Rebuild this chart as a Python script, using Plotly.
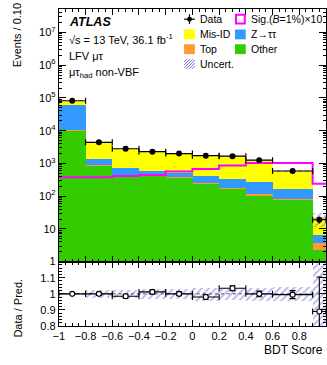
import numpy as np
import plotly.graph_objects as go

W, H = 327, 365

# ---------------- data ----------------
edges = [-1.0, -0.8, -0.6, -0.4, -0.2, 0.0, 0.2, 0.4, 0.6, 0.9, 1.0]
other = [10200, 880, 440, 440, 365, 238, 170, 108, 78, 2.3]
top = [600, 40, 20, 20, 15, 12, 10, 8, 7, 1.5]
ztautau = [52200, 480, 270, 150, 150, 160, 160, 154, 85, 2.7]
misid = [19000, 3000, 2120, 1640, 1470, 1340, 1260, 980, 420, 14.5]
signal_x10 = [380, 375, 415, 440, 565, 680, 870, 1030, 1030, 240]
data = [82000, 4400, 2800, 2280, 2000, 1720, 1660, 1250, 585, 19]
data_err = [290, 66, 53, 48, 45, 41, 41, 35, 24, 4.4]
unc_rel = [0.005, 0.025, 0.025, 0.03, 0.03, 0.04, 0.035, 0.04, 0.045, 0.45]
ratio = [1.0, 1.0, 0.985, 1.012, 1.0, 0.98, 1.035, 1.0, 0.995, 0.89]
ratio_err = [0.004, 0.01, 0.012, 0.012, 0.012, 0.014, 0.015, 0.018, 0.025, 0.215]

x_ticks = [-1, -0.8, -0.6, -0.4, -0.2, 0, 0.2, 0.4, 0.6, 0.8]
x_ticktext = ["\u22121", "\u22120.8", "\u22120.6", "\u22120.4", "\u22120.2", "0", "0.2", "0.4", "0.6", "0.8"]
y_ticks = [1, 10, 1e2, 1e3, 1e4, 1e5, 1e6, 1e7]
y_ticktext = ["1", "10", "10<sup>2</sup>", "10<sup>3</sup>", "10<sup>4</sup>",
              "10<sup>5</sup>", "10<sup>6</sup>", "10<sup>7</sup>"]
r_ticks = [0.8, 0.9, 1.0, 1.1]
r_ticktext = ["0.8", "0.9", "1", "1.1"]

# ---------------- colours ----------------
C_OTHER = "#33cc00"
C_TOP = "#ff9933"
C_Z = "#3399ff"
C_MIS = "#ffff00"
C_SIG = "#ff00ff"
C_HATCH = "#7070e0"
FONT = "Liberation Sans"

edges_a = np.array(edges)
centers = (edges_a[:-1] + edges_a[1:]) / 2
widths = np.diff(edges_a)
halfw = widths / 2

fig = go.Figure()

# stacked backgrounds (explicit bases, overlay mode)
cum = np.zeros(len(other))
for vals, col, name in [(other, C_OTHER, "Other"), (top, C_TOP, "Top"),
                        (ztautau, C_Z, "Z"), (misid, C_MIS, "Mis-ID")]:
    v = np.array(vals, dtype=float)
    kw = {}
    if cum.sum() > 0:
        kw["base"] = cum.copy()
    fig.add_trace(go.Bar(x=centers, y=v, width=widths, marker=dict(color=col, line=dict(width=0)),
                         xaxis="x", yaxis="y", showlegend=False, name=name, **kw))
    cum = cum + v
total = cum

# uncertainty band main
unc = np.array(unc_rel)
fig.add_trace(go.Bar(x=centers, y=2 * total * unc, base=total * (1 - unc), width=widths,
                     marker=dict(color="rgba(0,0,0,0)", line=dict(width=0),
                                 pattern=dict(shape="/", fgcolor=C_HATCH, size=5, solidity=0.35,
                                              fillmode="overlay")),
                     xaxis="x", yaxis="y", showlegend=False))

# signal step
sx = list(edges)
sy = list(signal_x10) + [signal_x10[-1]]
fig.add_trace(go.Scatter(x=sx, y=sy, mode="lines", line=dict(color=C_SIG, width=2, shape="hv"),
                         xaxis="x", yaxis="y", showlegend=False))

# data
fig.add_trace(go.Scatter(x=centers, y=data, mode="markers",
                         marker=dict(color="black", size=6),
                         error_x=dict(type="data", array=halfw, color="black", thickness=1.2, width=3),
                         error_y=dict(type="data", array=data_err, color="black", thickness=1.2, width=0),
                         xaxis="x", yaxis="y", showlegend=False))

# ratio band
rb = np.array(unc_rel)
rb_full = np.where(rb > 0.2, 0.6, rb)
fig.add_trace(go.Bar(x=centers, y=2 * rb_full, base=1 - rb_full, width=widths,
                     marker=dict(color="rgba(0,0,0,0)", line=dict(width=0),
                                 pattern=dict(shape="/", fgcolor=C_HATCH, size=5, solidity=0.35,
                                              fillmode="overlay")),
                     xaxis="x2", yaxis="y2", showlegend=False))
fig.add_trace(go.Scatter(x=[-1, 1], y=[1, 1], mode="lines",
                         line=dict(color="#555555", width=1, dash="dot"),
                         xaxis="x2", yaxis="y2", showlegend=False))
fig.add_trace(go.Scatter(x=centers, y=ratio, mode="markers",
                         marker=dict(color="white", size=5, line=dict(color="black", width=1.1)),
                         error_x=dict(type="data", array=halfw, color="black", thickness=1.1, width=3),
                         error_y=dict(type="data", array=ratio_err, color="black", thickness=1.1, width=3),
                         xaxis="x2", yaxis="y2", showlegend=False))

# ---------------- layout ----------------
def px(x):
    return x / W

def py(y):
    return 1 - y / H

x_dom = [px(54), 1.0]
main_dom = [py(266), py(9)]
ratio_dom = [py(331.5), py(266)]

minor_log = []
for d in range(0, 8):
    for k in range(2, 10):
        minor_log.append(k * 10 ** d)

axis_common = dict(showline=True, linecolor="black", linewidth=1, mirror="allticks",
                   ticks="inside", tickcolor="black", showgrid=False, zeroline=False,
                   tickfont=dict(family=FONT, size=11, color="black"))

fig.update_layout(
    width=W, height=H, margin=dict(l=0, r=0, t=0, b=0),
    paper_bgcolor="white", plot_bgcolor="white", barmode="overlay", bargap=0,
    showlegend=False,
    xaxis=dict(domain=x_dom, anchor="y", range=[-1, 1], tickvals=x_ticks, showticklabels=False,
               ticklen=6, minor=dict(ticks="inside", ticklen=3, tickcolor="black", dtick=0.05, showgrid=False),
               **{k: v for k, v in axis_common.items() if k != "tickfont"}),
    yaxis=dict(domain=main_dom, anchor="x", type="log", range=[0, 7.72], tickvals=y_ticks,
               ticktext=y_ticktext, ticklen=7,
               minor=dict(ticks="inside", ticklen=3, tickcolor="black", tickvals=minor_log, showgrid=False),
               **axis_common),
    xaxis2=dict(domain=x_dom, anchor="y2", range=[-1, 1], tickvals=x_ticks, ticktext=x_ticktext,
                ticklen=6, minor=dict(ticks="inside", ticklen=3, tickcolor="black", dtick=0.05, showgrid=False),
                **axis_common),
    yaxis2=dict(domain=ratio_dom, anchor="x2", range=[0.8, 1.2], tickvals=r_ticks, ticktext=r_ticktext,
                ticklen=6, minor=dict(ticks="inside", ticklen=3, tickcolor="black", dtick=0.02, showgrid=False),
                **axis_common),
)

# ---------------- text ----------------
ann = []
def add_text(x, y, text, size=11, xanchor="left", yanchor="middle", angle=0, **kw):
    ann.append(dict(x=px(x), y=py(y), xref="paper", yref="paper", text=text, showarrow=False,
                    xanchor=xanchor, yanchor=yanchor, textangle=angle,
                    font=dict(family=FONT, size=size, color="black"), **kw))

add_text(62, 22, "<b><i>ATLAS</i></b>", size=12.5)
add_text(62, 40, "\u221as = 13 TeV, 36.1 fb<sup>-1</sup>", size=11)
add_text(62, 57, "LFV \u03bc\u03c4", size=11)
add_text(62, 74, "\u03bc\u03c4<sub>had</sub> non-VBF", size=11)

add_text(12, 36, "Events / 0.10", size=11, xanchor="center", yanchor="middle", angle=-90)
add_text(12, 313, "Data / Pred.", size=11, xanchor="center", yanchor="middle", angle=-90)
add_text(326, 356, "BDT Score", size=12, xanchor="right")

# legend
rows = [19.5, 35, 50, 65]
c1_box, c1_txt = 182, 196
c2_box, c2_txt = 234, 248
add_text(c1_txt, rows[0], "Data", size=10.5)
add_text(c2_txt, rows[0], "Sig.(<i>B</i>=1%)\u00d710", size=10.5)
add_text(c1_txt, rows[1], "Mis-ID", size=10.5)
add_text(c2_txt, rows[1], "Z\u2192\u03c4\u03c4", size=10.5)
add_text(c1_txt, rows[2], "Top", size=10.5)
add_text(c2_txt, rows[2], "Other", size=10.5)
add_text(c1_txt, rows[3], "Uncert.", size=10.5)
fig.update_layout(annotations=ann)

shapes = []
def box(x0, yc, fill, line=None, lw=0):
    shapes.append(dict(type="rect", xref="paper", yref="paper", x0=px(x0), x1=px(x0 + 11),
                       y0=py(yc + 5), y1=py(yc - 5), fillcolor=fill,
                       line=dict(color=line if line else fill, width=lw)))

box(c1_box, rows[1], C_MIS)
box(c1_box, rows[2], C_TOP)
box(c2_box, rows[1], C_Z)
box(c2_box, rows[2], C_OTHER)
shapes.append(dict(type="rect", xref="paper", yref="paper", x0=px(c2_box + 1), x1=px(c2_box + 10),
                   y0=py(rows[0] + 4.5), y1=py(rows[0] - 4.5), fillcolor="rgba(0,0,0,0)",
                   line=dict(color=C_SIG, width=2)))
# data legend symbol
shapes.append(dict(type="line", xref="paper", yref="paper", x0=px(c1_box), x1=px(c1_box + 11),
                   y0=py(rows[0]), y1=py(rows[0]), line=dict(color="black", width=1.2)))
shapes.append(dict(type="line", xref="paper", yref="paper", x0=px(c1_box + 5.5), x1=px(c1_box + 5.5),
                   y0=py(rows[0] - 5), y1=py(rows[0] + 5), line=dict(color="black", width=1.2)))
shapes.append(dict(type="circle", xref="paper", yref="paper", x0=px(c1_box + 3), x1=px(c1_box + 8),
                   y0=py(rows[0] + 2.5), y1=py(rows[0] - 2.5), fillcolor="black",
                   line=dict(color="black", width=0)))
# hatched legend box
hx0, hx1 = c1_box, c1_box + 11
hy0 = rows[3] + 5
for s in np.arange(-10, 12, 3.0):
    xa, xb = hx0 + s, hx0 + s + 10
    xa_c, xb_c = max(xa, hx0), min(xb, hx1)
    if xb_c <= xa_c:
        continue
    ya = hy0 - (xa_c - xa)
    yb = hy0 - (xb_c - xa)
    shapes.append(dict(type="line", xref="paper", yref="paper", x0=px(xa_c), x1=px(xb_c),
                       y0=py(ya), y1=py(yb), line=dict(color=C_HATCH, width=1)))
fig.update_layout(shapes=shapes)

fig.write_html("out.html")
